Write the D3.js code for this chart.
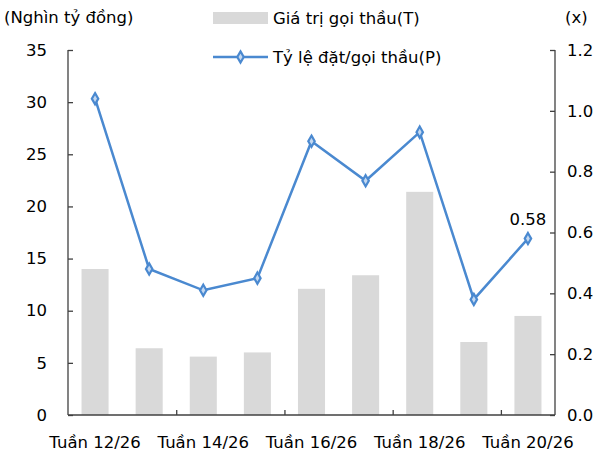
<!DOCTYPE html>
<html>
<head>
<meta charset="utf-8">
<script src="https://cdn.jsdelivr.net/npm/d3@7"></script>
<style>
    body { margin: 0; background: #fff; }
    text { font-family: "DejaVu Sans", sans-serif; fill: #000; }
</style>
</head>
<body>
<svg id="chart" width="606" height="455"></svg>
<script>
    var weeks = ["Tuần 12/26", "Tuần 13/26", "Tuần 14/26", "Tuần 15/26", "Tuần 16/26",
        "Tuần 17/26", "Tuần 18/26", "Tuần 19/26", "Tuần 20/26"];
    var giaTri = [14.0, 6.4, 5.6, 6.0, 12.1, 13.4, 21.4, 7.0, 9.5];
    var tyLe = [1.04, 0.48, 0.41, 0.45, 0.90, 0.77, 0.93, 0.38, 0.58];
    var leftTicks = [0, 5, 10, 15, 20, 25, 30, 35];
    var rightTicks = [0, 0.2, 0.4, 0.6, 0.8, 1.0, 1.2];

    var margin = {left: 68, right: 51, top: 50, bottom: 40};
    var width = 606 - margin.left - margin.right,
        height = 455 - margin.top - margin.bottom;

    var barColor = "#d9d9d9", lineColor = "#4a89d0", axisColor = "#404040";
    var fs = "16.5px";

    var svg = d3.select("#chart");
    var g = svg.append("g").attr("transform", "translate(" + margin.left + "," + margin.top + ")");

    var x = d3.scaleBand().domain(weeks).range([0, width]).paddingInner(0.5).paddingOuter(0.25);
    var yL = d3.scaleLinear().domain([0, 35]).range([height, 0]);
    var yR = d3.scaleLinear().domain([0, 1.2]).range([height, 0]);

    // bars
    g.selectAll("rect.bar")
        .data(giaTri)
        .enter().append("rect")
        .attr("class", "bar")
        .attr("x", function (d, i) { return x(weeks[i]); })
        .attr("width", x.bandwidth())
        .attr("y", function (d) { return yL(d); })
        .attr("height", function (d) { return height - yL(d); })
        .attr("fill", barColor);

    // left axis
    var axL = g.append("g")
        .call(d3.axisLeft(yL).tickValues(leftTicks).tickSize(-5).tickPadding(21).tickFormat(d3.format("d")));
    // right axis
    var axR = g.append("g")
        .attr("transform", "translate(" + width + ",0)")
        .call(d3.axisRight(yR).tickValues(rightTicks).tickSize(-5).tickPadding(12).tickFormat(d3.format(".1f")));
    // bottom axis: ticks every two categories
    var axB = g.append("g")
        .attr("transform", "translate(0," + height + ")")
        .call(d3.axisBottom(d3.scaleLinear().domain([0, weeks.length]).range([0, width]))
            .tickValues([2, 4, 6, 8]).tickSize(-5).tickFormat(""));

    [axL, axR, axB].forEach(function (ax) {
        ax.select(".domain").attr("stroke", axisColor).attr("stroke-width", 1.3);
        ax.selectAll(".tick line").attr("stroke", axisColor).attr("stroke-width", 1.3);
        ax.selectAll("text").style("font-size", fs).attr("fill", "#000");
    });
    axL.select(".domain").attr("d", "M0," + height + "V0");
    axR.select(".domain").attr("d", "M0," + height + "V0");
    axB.select(".domain").attr("d", "M0,0H" + width);

    // category labels, every other week
    g.selectAll("text.cat")
        .data(weeks.filter(function (d, i) { return i % 2 === 0; }))
        .enter().append("text")
        .attr("class", "cat")
        .attr("x", function (d) { return x(d) + x.bandwidth() / 2; })
        .attr("y", height + 33)
        .attr("text-anchor", "middle")
        .style("font-size", fs)
        .text(function (d) { return d; });

    // line
    var line = d3.line()
        .x(function (d, i) { return x(weeks[i]) + x.bandwidth() / 2; })
        .y(function (d) { return yR(d); });
    g.append("path")
        .datum(tyLe)
        .attr("d", line)
        .attr("fill", "none")
        .attr("stroke", lineColor)
        .attr("stroke-width", 2.5);

    var diamond = d3.symbol().type(d3.symbolDiamond).size(36);
    g.selectAll("path.pt")
        .data(tyLe)
        .enter().append("path")
        .attr("class", "pt")
        .attr("d", diamond)
        .attr("transform", function (d, i) {
            return "translate(" + (x(weeks[i]) + x.bandwidth() / 2) + "," + yR(d) + ")";
        })
        .attr("fill", "#c5d9f1")
        .attr("stroke", lineColor)
        .attr("stroke-width", 2.2);

    // last value label
    var last = tyLe.length - 1;
    g.append("text")
        .attr("x", x(weeks[last]) + x.bandwidth() / 2)
        .attr("y", yR(tyLe[last]) - 14)
        .attr("text-anchor", "middle")
        .style("font-size", fs)
        .text(d3.format(".2f")(tyLe[last]));

    // unit labels
    svg.append("text").attr("x", 4).attr("y", 23).style("font-size", fs).text("(Nghìn tỷ đồng)");
    svg.append("text").attr("x", 565).attr("y", 23).style("font-size", fs).text("(x)");

    // legend
    var lg = svg.append("g").attr("transform", "translate(213,0)");
    lg.append("rect").attr("x", 0).attr("y", 12).attr("width", 55).attr("height", 12).attr("fill", barColor);
    lg.append("text").attr("x", 60).attr("y", 24).style("font-size", fs).text("Giá trị gọi thầu(T)");
    lg.append("line").attr("x1", 0).attr("x2", 55).attr("y1", 57).attr("y2", 57)
        .attr("stroke", lineColor).attr("stroke-width", 2.5);
    lg.append("path").attr("d", diamond).attr("transform", "translate(27.5,57)")
        .attr("fill", "#c5d9f1").attr("stroke", lineColor).attr("stroke-width", 2.2);
    lg.append("text").attr("x", 60).attr("y", 63).style("font-size", fs).text("Tỷ lệ đặt/gọi thầu(P)");
</script>
</body>
</html>
